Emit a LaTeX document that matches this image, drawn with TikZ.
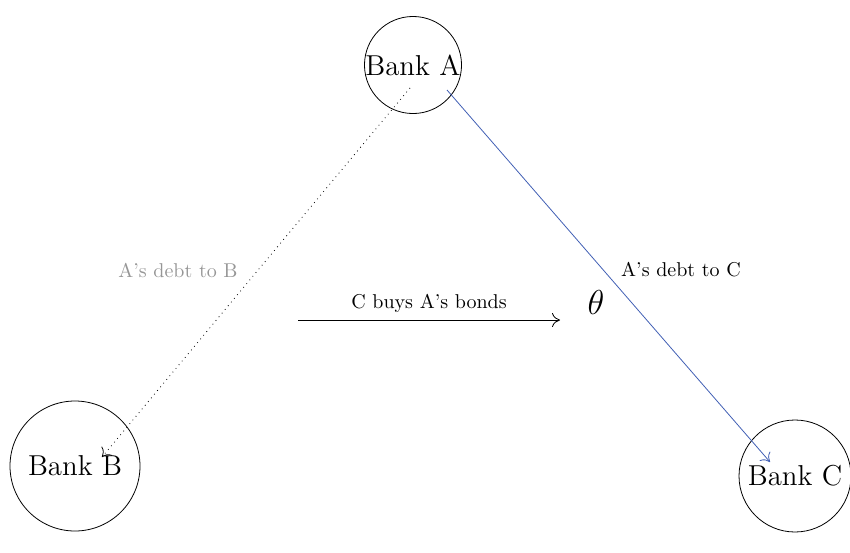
\documentclass[tikz,border=0pt]{standalone}
\usetikzlibrary{arrows.meta}
\definecolor{linkblue}{RGB}{65,95,180}
\definecolor{labelgray}{RGB}{150,150,150}
\tikzset{
  bank/.style={circle,draw,inner sep=0pt,font=\Large},
  lbl/.style={font=\normalsize},
  tip/.style={-{To[length=4pt,width=7pt]}},
}
\begin{document}
\begin{tikzpicture}[x=0.5pt,y=-0.5pt]
\useasboundingbox (0,0) rectangle (850,552);
\node[bank,minimum size=46pt] (A) at (413,65) {Bank A};
\node[bank,minimum size=65pt] (B) at (75,466) {Bank B};
\node[bank,minimum size=56pt] (C) at (795,476) {Bank C};
\coordinate (a1) at (410,88);
\coordinate (b1) at (102,457);
\coordinate (a2) at (447,90);
\coordinate (c1) at (770,462);
\coordinate (s) at (298,320);
\coordinate (t) at (560,320);
\draw[dotted,tip] (a1) -- (b1);
\draw[linkblue,tip] (a2) -- (c1);
\draw[tip] (s) -- (t);
\node[lbl,text=labelgray] (lb) at (178,270) {A's debt to B};
\node[lbl] (lc) at (681,270) {A's debt to C};
\node[lbl] (lm) at (429,303) {C buys A's bonds};
\node[font=\LARGE] (th) at (596,302) {$\theta$};
\end{tikzpicture}
\end{document}
